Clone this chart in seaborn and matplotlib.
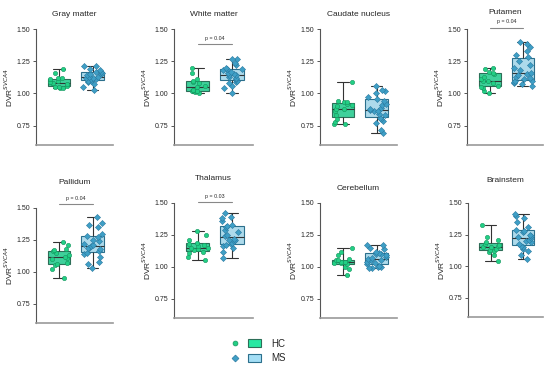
import numpy as np
import pandas as pd
import matplotlib
matplotlib.use("Agg")
import matplotlib.pyplot as plt
import seaborn as sns
from matplotlib.lines import Line2D
from matplotlib.patches import Patch
from matplotlib.legend_handler import HandlerTuple

# ---- data ----
regions = ["Gray matter", "White matter", "Caudate nucleus", "Putamen",
           "Pallidum", "Thalamus", "Cerebellum", "Brainstem"]
groups = ["HC", "MS"]

hc_gray = [1.04, 1.04, 1.05, 1.05, 1.06, 1.07, 1.08, 1.08, 1.09, 1.10, 1.11, 1.12, 1.12, 1.16, 1.19]
ms_gray = [1.03, 1.05, 1.07, 1.09, 1.10, 1.10, 1.11, 1.11, 1.12, 1.12, 1.13, 1.13, 1.14, 1.15, 1.15,
           1.16, 1.17, 1.17, 1.18, 1.19, 1.21, 1.21]
hc_white = [1.00, 1.01, 1.02, 1.02, 1.02, 1.03, 1.03, 1.05, 1.06, 1.08, 1.09, 1.10, 1.11, 1.16, 1.20]
ms_white = [1.00, 1.04, 1.06, 1.08, 1.09, 1.10, 1.11, 1.12, 1.13, 1.14, 1.14, 1.15, 1.16, 1.17, 1.18,
            1.19, 1.19, 1.20, 1.22, 1.24, 1.27, 1.27]
hc_caudate = [0.76, 0.76, 0.78, 0.80, 0.83, 0.86, 0.88, 0.88, 0.90, 0.91, 0.92, 0.93, 0.93, 0.94, 1.09]
ms_caudate = [0.69, 0.72, 0.77, 0.79, 0.80, 0.81, 0.83, 0.84, 0.86, 0.86, 0.87, 0.88, 0.89, 0.91, 0.92,
              0.94, 0.96, 0.97, 1.00, 1.02, 1.03, 1.06]
hc_putamen = [1.00, 1.02, 1.04, 1.05, 1.06, 1.08, 1.10, 1.10, 1.11, 1.13, 1.15, 1.16, 1.17, 1.19, 1.20]
ms_putamen = [1.06, 1.07, 1.08, 1.09, 1.10, 1.10, 1.11, 1.12, 1.13, 1.14, 1.15, 1.16, 1.18, 1.20, 1.22,
              1.25, 1.28, 1.30, 1.33, 1.36, 1.38, 1.40]
hc_pallidum = [0.95, 1.02, 1.05, 1.06, 1.07, 1.10, 1.11, 1.12, 1.13, 1.15, 1.16, 1.17, 1.18, 1.21, 1.23]
ms_pallidum = [1.03, 1.06, 1.08, 1.12, 1.14, 1.15, 1.16, 1.18, 1.19, 1.19, 1.20, 1.21, 1.22, 1.24, 1.25,
               1.27, 1.28, 1.30, 1.35, 1.37, 1.38, 1.43]
hc_thalamus = [1.05, 1.08, 1.11, 1.12, 1.13, 1.14, 1.15, 1.15, 1.16, 1.17, 1.18, 1.19, 1.21, 1.25, 1.28]
ms_thalamus = [1.07, 1.12, 1.15, 1.16, 1.17, 1.18, 1.19, 1.20, 1.21, 1.21, 1.22, 1.24, 1.25, 1.27, 1.29,
               1.31, 1.32, 1.33, 1.36, 1.38, 1.39, 1.42]
hc_cerebellum = [0.94, 0.98, 1.00, 1.02, 1.03, 1.03, 1.04, 1.04, 1.04, 1.05, 1.05, 1.06, 1.09, 1.12, 1.15]
ms_cerebellum = [0.99, 0.99, 1.00, 1.00, 1.01, 1.02, 1.03, 1.04, 1.05, 1.05, 1.06, 1.07, 1.08, 1.09, 1.10,
                 1.10, 1.11, 1.12, 1.14, 1.15, 1.17, 1.17]
hc_brainstem = [1.04, 1.09, 1.11, 1.12, 1.13, 1.14, 1.15, 1.15, 1.16, 1.17, 1.18, 1.19, 1.21, 1.23, 1.33]
ms_brainstem = [1.06, 1.09, 1.12, 1.14, 1.15, 1.16, 1.18, 1.19, 1.20, 1.21, 1.22, 1.23, 1.24, 1.25, 1.27,
                1.28, 1.29, 1.31, 1.35, 1.38, 1.40, 1.41]

hc_values = [hc_gray, hc_white, hc_caudate, hc_putamen, hc_pallidum, hc_thalamus, hc_cerebellum, hc_brainstem]
ms_values = [ms_gray, ms_white, ms_caudate, ms_putamen, ms_pallidum, ms_thalamus, ms_cerebellum, ms_brainstem]

# significant comparisons: region -> (label, height of bar)
pvals = {"White matter": ("p = 0.04", 1.38),
         "Putamen": ("p = 0.04", 1.51),
         "Pallidum": ("p = 0.04", 1.53),
         "Thalamus": ("p = 0.03", 1.51)}

rows = []
for reg, hc, ms in zip(regions, hc_values, ms_values):
    rows += [(reg, "HC", v) for v in hc]
    rows += [(reg, "MS", v) for v in ms]
df = pd.DataFrame(rows, columns=["region", "group", "value"])

# ---- style ----
sns.set_style("white")
plt.rcParams["font.family"] = ["Liberation Sans", "DejaVu Sans"]

box_fill = {"HC": "#27e8a2", "MS": "#a3def5"}
box_edge = {"HC": "#2d6e58", "MS": "#2c6f8c"}
pt_face = {"HC": "#22cf85", "MS": "#3f9fc6"}
pt_edge = {"HC": "#15945e", "MS": "#2a7aa0"}
markers = {"HC": "o", "MS": "D"}

W, H = 550, 366
fig = plt.figure(figsize=(5.5, 3.66), dpi=100)

# axes boxes in pixels: (left, top, right, bottom)
boxes = [(36, 29, 113, 145), (174, 29, 253, 145), (320, 29, 397, 145), (467, 29, 543, 145),
         (36, 208, 113, 323), (174, 203, 253, 318), (320, 203, 397, 318), (468, 203, 543, 317)]
title_y = [15, 15, 14, 12, 182, 179, 188, 180]

np.random.seed(3)
for i, reg in enumerate(regions):
    l, t, r, b = boxes[i]
    ax = fig.add_axes([l / W, 1 - b / H, (r - l) / W, (b - t) / H])
    sub = df[df.region == reg]
    sns.boxplot(data=sub, x="group", y="value", hue="group", order=groups,
                palette=box_fill, whis=(0, 100), width=0.68, showfliers=False,
                linewidth=0.8, linecolor="#333333", legend=False, ax=ax)
    # recolor box edges per group
    for patch, g in zip(ax.patches, groups):
        patch.set_edgecolor(box_edge[g])
    for g in groups:
        sns.stripplot(data=sub[sub.group == g], x="group", y="value", order=groups,
                      color=pt_face[g], marker=markers[g], size=3.1, jitter=0.3,
                      edgecolor=pt_edge[g], linewidth=0.4, ax=ax)
    ax.set_ylim(0.6, 1.5)
    ax.set_xlim(-0.69, 1.61)
    ax.set_yticks([0.75, 1.00, 1.25, 1.50])
    ax.set_yticklabels(["0.75", "1.00", "1.25", "1.50"])
    ax.set_xticks([])
    ax.set_xlabel("")
    ax.set_ylabel("DVR$^{SVCA4}$", fontsize=6, labelpad=1.5)
    ax.tick_params(axis="y", labelsize=5, length=2.5, width=0.7, pad=1.5, left=True, color="#555555")
    for s in ["top", "right"]:
        ax.spines[s].set_visible(False)
    ax.spines["left"].set_color("#555555")
    ax.spines["left"].set_linewidth(0.8)
    ax.spines["bottom"].set_color("#999999")
    ax.spines["bottom"].set_linewidth(1.2)
    fig.text((l + r) / 2 / W, 1 - title_y[i] / H, reg, ha="center", va="center", fontsize=6)
    if reg in pvals:
        lab, yb = pvals[reg]
        ax.plot([0, 1], [yb, yb], color="#888888", lw=0.8, clip_on=False)
        ax.text(0.5, yb + 0.025, lab, ha="center", va="bottom", fontsize=3.8, clip_on=False)

# ---- legend ----
handles = [(Line2D([], [], marker=markers[g], ls="", color=pt_face[g], markeredgecolor=pt_edge[g],
                   markersize=3.5, markeredgewidth=0.5),
            Patch(facecolor=box_fill[g], edgecolor=box_edge[g], linewidth=0.8)) for g in groups]
fig.legend(handles, groups, handler_map={tuple: HandlerTuple(ndivide=None, pad=0.6)},
           loc="center", bbox_to_anchor=(257 / W, 1 - 351 / H), frameon=False,
           fontsize=7, handlelength=3.4, handleheight=0.8, handletextpad=1.0, labelspacing=0.5)

fig.savefig("out.png", dpi=100)
